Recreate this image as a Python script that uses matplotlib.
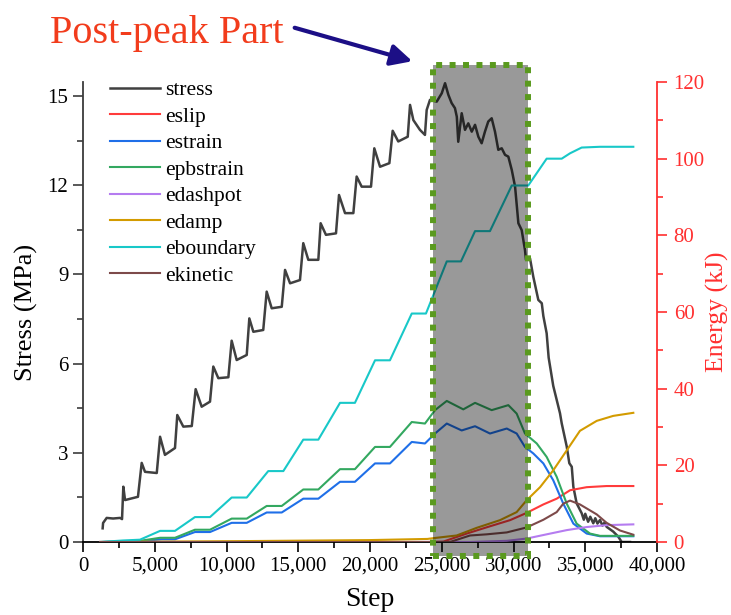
import numpy as np
import matplotlib
matplotlib.use('Agg')
import matplotlib.pyplot as plt
import matplotlib.transforms as mtransforms
from matplotlib.patches import Rectangle
from matplotlib.ticker import MultipleLocator, FuncFormatter

# (step, stress MPa)
stress = [(1370, 0.46), (1400, 0.64), (1650, 0.81), (2100, 0.79), (2580, 0.81), (2720, 0.77),
          (2810, 1.86), (2930, 1.41), (3830, 1.52), (4090, 2.66), (4320, 2.36), (5140, 2.32),
          (5370, 3.54), (5710, 2.93), (6410, 3.16), (6570, 4.27), (6990, 3.88), (7580, 3.90),
          (7850, 5.14), (8270, 4.55), (8850, 4.72), (9080, 5.90), (9430, 5.51), (10130, 5.54),
          (10360, 6.77), (10710, 6.12), (11410, 6.29), (11590, 7.52), (11870, 7.07), (12560, 7.13),
          (12800, 8.42), (13150, 7.86), (13850, 7.91), (14080, 9.15), (14430, 8.70), (15120, 8.81),
          (15350, 10.05), (15700, 9.49), (16400, 9.49), (16560, 10.72), (16930, 10.33), (17630, 10.38),
          (17840, 11.67), (18260, 11.06), (18840, 11.06), (19070, 12.29), (19420, 11.95), (20070, 11.95),
          (20300, 13.24), (20700, 12.62), (21350, 12.74), (21580, 13.83), (21970, 13.47), (22630, 13.63),
          (22790, 14.70), (23020, 14.19), (23480, 13.86), (23830, 13.69), (23950, 14.53), (24180, 14.87),
          (24650, 14.81), (25000, 15.09), (25230, 15.43), (25460, 15.04), (25690, 14.76), (25920, 14.59),
          (26050, 14.30), (26150, 13.46), (26390, 14.42), (26620, 13.86), (26850, 14.08), (27090, 13.80),
          (27320, 14.03), (27550, 13.63), (27780, 13.41), (28010, 13.80), (28240, 14.14), (28480, 14.25),
          (28710, 13.80), (28940, 13.19), (29180, 13.24), (29410, 13.02), (29640, 12.96), (29880, 12.51),
          (30110, 11.95), (30340, 10.72), (30570, 10.49), (30800, 9.82), (30870, 9.49), (31150, 9.54),
          (31380, 8.92), (31730, 8.14), (31970, 8.03), (32080, 7.60), (32310, 7.02), (32450, 6.20),
          (32770, 5.25), (33010, 4.78), (33240, 4.33), (33360, 3.99), (33710, 3.21), (33890, 2.65),
          (34060, 2.53), (34170, 1.86), (34400, 1.30), (34750, 0.97), (34900, 0.75), (35000, 0.95),
          (35200, 0.68), (35350, 0.85), (35560, 0.63), (35700, 0.80), (35850, 0.62), (36030, 0.74),
          (36200, 0.55), (36350, 0.66), (36490, 0.51), (36950, 0.35), (37300, 0.18), (37540, 0.0),
          (38120, 0.0)]

# (step, energy kJ)
eboundary = [(1190, 0.0), (2810, 0.4), (3970, 0.6), (5370, 2.9), (6410, 2.9), (7800, 6.5),
             (8850, 6.5), (10360, 11.6), (11410, 11.6), (12910, 18.5), (13960, 18.5), (15350, 26.7),
             (16400, 26.7), (17910, 36.3), (18950, 36.3), (20350, 47.4), (21390, 47.4), (22910, 59.6),
             (23900, 59.6), (25350, 73.2), (26340, 73.2), (27320, 81.1), (28360, 81.1), (29880, 93.0),
             (31030, 93.0), (32310, 100.0), (33360, 100.0), (33940, 101.4), (34750, 102.9),
             (36030, 103.1), (38350, 103.1)]
epbstrain = [(1420, 0.0), (3970, 0.3), (5370, 1.1), (6410, 1.1), (7800, 3.2), (8850, 3.2),
             (10360, 6.1), (11410, 6.1), (12800, 9.4), (13850, 9.4), (15350, 13.7), (16400, 13.7),
             (17910, 19.0), (18950, 19.0), (20350, 24.8), (21390, 24.8), (22910, 31.3), (23830, 30.9),
             (24530, 34.4), (25350, 36.8), (26500, 34.6), (27320, 36.3), (28480, 34.4), (29640, 35.7),
             (30220, 33.5), (30800, 28.3), (31620, 25.7), (32310, 22.2), (33010, 17.0), (33710, 10.0),
             (34400, 4.8), (35330, 2.2), (36030, 1.6), (38350, 1.6)]
estrain = [(1420, 0.0), (3970, 0.2), (5480, 0.7), (6410, 0.7), (7800, 2.6), (8850, 2.6),
           (10360, 5.0), (11410, 5.0), (12800, 7.7), (13850, 7.7), (15350, 11.3), (16400, 11.3),
           (17910, 15.7), (18950, 15.7), (20350, 20.5), (21390, 20.5), (22910, 26.1), (23830, 25.7),
           (24530, 28.3), (25350, 30.9), (26390, 29.1), (27320, 30.2), (28360, 28.3), (29530, 29.6),
           (30220, 28.3), (30800, 24.8), (31380, 23.1), (32080, 20.5), (32770, 16.1), (33470, 10.0),
           (34170, 4.8), (35100, 2.2), (36030, 1.5), (38350, 1.5)]
edamp = [(1190, 0.0), (10000, 0.2), (20000, 0.5), (24000, 0.8), (24410, 1.0), (26040, 1.7),
         (27440, 3.7), (29060, 5.7), (30220, 7.8), (30920, 10.9), (31850, 14.3), (32770, 18.7),
         (33710, 23.9), (34630, 29.0), (35800, 31.6), (36950, 32.9), (38350, 33.7)]
eslip = [(1190, 0.0), (24000, 0.0), (25110, 0.1), (26740, 2.2), (28360, 4.1), (29760, 5.7),
         (30920, 7.6), (32080, 9.8), (33010, 11.3), (33940, 13.5), (35100, 14.3), (36490, 14.6),
         (38350, 14.6)]
ekinetic = [(1190, 0.0), (25570, 0.0), (26970, 1.7), (28130, 2.0), (29530, 2.5), (30920, 3.8),
            (32080, 5.8), (33010, 7.8), (33470, 10.0), (33940, 10.8), (34630, 9.8), (35800, 7.2),
            (36490, 5.0), (37420, 3.0), (38350, 1.9)]
edashpot = [(1190, 0.0), (27000, 0.0), (29530, 0.3), (30920, 0.9), (32310, 2.0), (33710, 3.1),
            (35100, 3.9), (36490, 4.4), (38350, 4.6)]

post_peak = (24390, 31030)

plt.rcParams['font.family'] = ['Liberation Serif', 'DejaVu Serif']
plt.rcParams['font.size'] = 15

fig = plt.figure(figsize=(7.31, 6.15), dpi=100)
ax = fig.add_axes([83 / 731, 73 / 615, 574 / 731, 460 / 615])
ax2 = ax.twinx()

s = np.array(stress).T
l_stress, = ax.plot(s[0], s[1], color='#404040', lw=1.8, label='stress')

series = [('eslip', eslip, '#ff3b3b'), ('estrain', estrain, '#1f6fe8'),
          ('epbstrain', epbstrain, '#33a860'), ('edashpot', edashpot, '#b57cf0'),
          ('edamp', edamp, '#d39b00'), ('eboundary', eboundary, '#18c8c8'),
          ('ekinetic', ekinetic, '#7d4a4a')]
handles = [l_stress]
for name, pts, col in series:
    d = np.array(pts).T
    h, = ax2.plot(d[0], d[1], color=col, lw=1.5, label=name)
    handles.append(h)

ax.set_xlim(0, 40000)
ax.set_ylim(0, 15.47)
ax2.set_ylim(0, 120)

ax.xaxis.set_major_locator(MultipleLocator(5000))
ax.xaxis.set_minor_locator(MultipleLocator(2500))
ax.xaxis.set_major_formatter(FuncFormatter(lambda v, p: f'{int(v):,}'))
ax.yaxis.set_major_locator(MultipleLocator(3))
ax.yaxis.set_minor_locator(MultipleLocator(1.5))
ax2.yaxis.set_major_locator(MultipleLocator(20))
ax2.yaxis.set_minor_locator(MultipleLocator(10))

red = '#ff3030'
ax.spines['top'].set_visible(False)
ax.spines['right'].set_visible(False)
ax.spines['left'].set_color('#3c3c3c')
ax.spines['left'].set_linewidth(1.3)
ax.spines['bottom'].set_linewidth(1.3)
ax2.spines['top'].set_visible(False)
ax2.spines['left'].set_visible(False)
ax2.spines['bottom'].set_visible(False)
ax2.spines['right'].set_color(red)
ax2.spines['right'].set_linewidth(1.3)

ax.tick_params(which='major', direction='out', length=7, width=1.2, labelsize=15)
ax.tick_params(which='minor', direction='out', length=4, width=1.2)
ax.tick_params(axis='y', which='both', color='#3c3c3c')
ax2.tick_params(which='major', direction='out', length=7, width=1.2, labelsize=15, colors=red, pad=5)
ax2.tick_params(which='minor', direction='out', length=4, width=1.2, colors=red)

ax.set_xlabel('Step', fontsize=20, labelpad=8)
ax.set_ylabel('Stress (MPa)', fontsize=19, labelpad=7)
ax2.set_ylabel('Energy (kJ)', fontsize=18.5, color=red, labelpad=1)

# shaded post-peak window, drawn over the curves
trans = mtransforms.blended_transform_factory(ax2.transData, ax2.transAxes)
rect = Rectangle((post_peak[0], -0.03), post_peak[1] - post_peak[0], 1.067, transform=trans,
                 facecolor=(0, 0, 0, 0.4), edgecolor='#5a9a1e', lw=4.3,
                 linestyle=(0, (1, 1.25)), clip_on=False, zorder=5)
ax2.add_patch(rect)

ax2.legend(handles, [h.get_label() for h in handles], loc='upper left',
           bbox_to_anchor=(110 / 731, 1 - 80 / 615), bbox_transform=fig.transFigure,
           frameon=False, fontsize=15.5, handlelength=2.3, handletextpad=0.25,
           labelspacing=0.3, borderpad=0, borderaxespad=0)

fig.text(50 / 731, 1 - 43 / 615, 'Post-peak Part', fontsize=29, color='#f23c1c', va='baseline')
ax.annotate('', xy=(415 / 731, 1 - 62 / 615), xytext=(292 / 731, 1 - 27 / 615),
            xycoords='figure fraction', textcoords='figure fraction',
            arrowprops=dict(arrowstyle='-|>', color='#1c0f86', lw=3, mutation_scale=32))

fig.savefig('out.png', dpi=100)
